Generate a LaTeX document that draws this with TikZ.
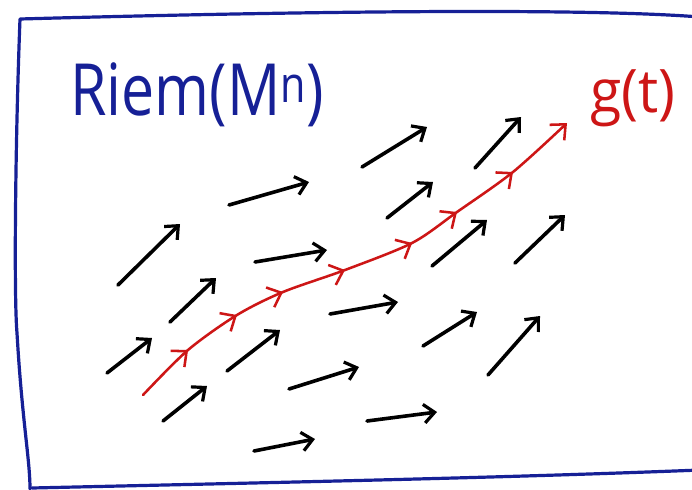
\documentclass[tikz,border=0pt]{standalone}
\usepackage{fontspec}
\setmainfont{Open Sans}
\usetikzlibrary{arrows.meta,decorations.markings}
\definecolor{sketchblue}{RGB}{22,32,150}
\definecolor{sketchred}{RGB}{205,22,22}
\tikzset{
  fieldtip/.tip={Straight Barb[length=8pt,width=14pt,line width=2.4pt]},
  flowtip/.tip={Straight Barb[length=9pt,width=16pt,line width=1.9pt]}}
\begin{document}
\begin{tikzpicture}[x=0.75pt,y=-0.75pt,
  field/.style={draw=black,line width=2.7pt,line cap=round,-fieldtip},
  flow/.style={draw=sketchred,line width=1.9pt,line cap=round,-flowtip,
    postaction={decorate},
    decoration={markings,
      mark=at position 0.125 with {\arrow{flowtip}},
      mark=at position 0.243 with {\arrow{flowtip}},
      mark=at position 0.344 with {\arrow{flowtip}},
      mark=at position 0.473 with {\arrow{flowtip}},
      mark=at position 0.615 with {\arrow{flowtip}},
      mark=at position 0.722 with {\arrow{flowtip}},
      mark=at position 0.857 with {\arrow{flowtip}}}},
  frame/.style={draw=sketchblue,line width=2.4pt,line cap=round,line join=round},
  label/.style={inner sep=0pt,anchor=base west}]
\useasboundingbox (0,0) rectangle (692,489);
\fill[white] (0,0) rectangle (692,489);

% hand-drawn frame
\draw[frame] (700,17) .. controls (560,6) and (200,14) .. (20,19)
  .. controls (15,150) and (14,300) .. (17,333)
  .. controls (22,420) and (30,460) .. (30,489);
\draw[frame] (32,488) .. controls (250,483) and (500,478) .. (700,470);

% labels
\node[label,text=sketchblue,font=\fontsize{54}{60}\selectfont] (riem) at (70,115)
  {\scalebox{0.82}[1]{Riem(M\textsuperscript{n})}};
\node[label,text=sketchred,font=\fontsize{45}{50}\selectfont] (gt) at (590,112)
  {\scalebox{0.95}[1]{g(t)}};

% vector field coordinates (tail, head)
\coordinate (a0) at (118,285); \coordinate (a1) at (180,224);
\coordinate (b0) at (229,205); \coordinate (b1) at (309,182);
\coordinate (c0) at (362,167); \coordinate (c1) at (427,127);
\coordinate (d0) at (475,168); \coordinate (d1) at (521,117);
\coordinate (e0) at (387,218); \coordinate (e1) at (433,182);
\coordinate (f0) at (255,262); \coordinate (f1) at (327,250);
\coordinate (g0) at (170,322); \coordinate (g1) at (216,278);
\coordinate (h0) at (107,373); \coordinate (h1) at (152,338);
\coordinate (i0) at (227,371); \coordinate (i1) at (280,330);
\coordinate (j0) at (330,314); \coordinate (j1) at (398,302);
\coordinate (k0) at (432,266); \coordinate (k1) at (487,220);
\coordinate (l0) at (515,263); \coordinate (l1) at (565,215);
\coordinate (m0) at (163,421); \coordinate (m1) at (207,386);
\coordinate (n0) at (289,389); \coordinate (n1) at (359,367);
\coordinate (o0) at (423,346); \coordinate (o1) at (477,312);
\coordinate (p0) at (488,375); \coordinate (p1) at (540,316);
\coordinate (q0) at (367,421); \coordinate (q1) at (437,412);
\coordinate (r0) at (254,451); \coordinate (r1) at (315,439);

\foreach \v in {a,b,c,d,e,f,g,h,i,j,k,l,m,n,o,p,q,r}
  \draw[field] (\v0) -- (\v1);

% the flow g(t)
\coordinate (s0) at (143,395);
\coordinate (s1) at (188,350);
\coordinate (s2) at (237,315);
\coordinate (s3) at (283,292);
\coordinate (s4) at (345,270);
\coordinate (s5) at (412,243);
\coordinate (s6) at (457,212);
\coordinate (s7) at (513,172);
\coordinate (s8) at (567,123);
\draw[flow] plot[smooth,tension=0.5] coordinates {(s0) (s1) (s2) (s3) (s4) (s5) (s6) (s7) (s8)};
\end{tikzpicture}
\end{document}
